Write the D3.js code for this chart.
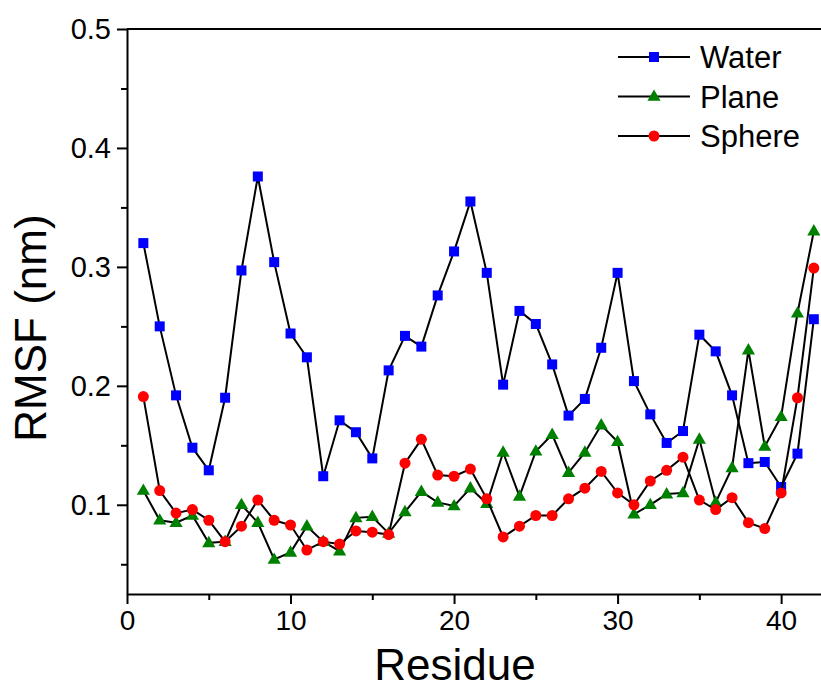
<!DOCTYPE html>
<html>
<head>
<meta charset="utf-8">
<script src="https://cdnjs.cloudflare.com/ajax/libs/d3/7.8.5/d3.min.js"></script>
<style>
html,body{margin:0;padding:0;background:#fff;}
svg{display:block;}
text{font-family:"Liberation Sans",Arial,sans-serif;fill:#000;}
</style>
</head>
<body>
<svg id="chart" width="821" height="689"></svg>
<script>
const residues = d3.range(1, 43);
const water = [0.320,0.250,0.192,0.148,0.129,0.190,0.297,0.376,0.304,0.244,
  0.224,0.124,0.171,0.161,0.139,0.213,0.242,0.233,0.276,0.313,
  0.355,0.295,0.201,0.263,0.252,0.218,0.175,0.189,0.232,0.295,
  0.204,0.176,0.152,0.162,0.243,0.229,0.192,0.135,0.136,0.115,
  0.143,0.256];
const plane = [0.112,0.087,0.085,0.091,0.068,0.069,0.100,0.085,0.054,0.060,
  0.082,0.069,0.061,0.089,0.090,0.076,0.094,0.111,0.102,0.099,
  0.114,0.101,0.144,0.107,0.145,0.159,0.127,0.144,0.167,0.153,
  0.092,0.100,0.109,0.110,0.155,0.102,0.131,0.230,0.149,0.174,
  0.261,0.330];
const sphere = [0.191,0.112,0.093,0.096,0.087,0.069,0.082,0.104,0.087,0.083,
  0.062,0.069,0.067,0.078,0.077,0.075,0.135,0.155,0.125,0.124,
  0.130,0.105,0.073,0.082,0.091,0.091,0.105,0.114,0.128,0.110,
  0.100,0.120,0.129,0.140,0.104,0.096,0.106,0.085,0.080,0.110,
  0.190,0.299];
const seriesNames = ["Water","Plane","Sphere"];
const seriesColors = ["#0000ff","#008000","#ff0000"];
const seriesShapes = ["square","triangle","circle"];
const xTicks = [0,10,20,30,40];
const xMinor = [5,15,25,35];
const yTicks = [0.1,0.2,0.3,0.4,0.5];
const yMinor = [0.05,0.15,0.25,0.35,0.45];

const svg = d3.select("#chart");
const x = d3.scaleLinear().domain([0,42.5]).range([127,822]);
const y = d3.scaleLinear().domain([0.025,0.5]).range([594,29]);

// frame top line
svg.append("line").attr("x1",127).attr("x2",821).attr("y1",y(0.5)).attr("y2",y(0.5))
  .attr("stroke","#000").attr("stroke-width",2);

// x axis
const xAxis = svg.append("g").attr("transform",`translate(0,${y(0.025)})`)
  .call(d3.axisBottom(x).tickValues(xTicks).tickFormat(d3.format("d")).tickSize(10).tickSizeOuter(0));
svg.append("g").attr("transform",`translate(0,${y(0.025)})`)
  .call(d3.axisBottom(x).tickValues(xMinor).tickFormat("").tickSize(6).tickSizeOuter(0))
  .select(".domain").remove();
// y axis
const yAxis = svg.append("g").attr("transform",`translate(${x(0)},0)`)
  .call(d3.axisLeft(y).tickValues(yTicks).tickFormat(d3.format(".1f")).tickSize(10).tickSizeOuter(0));
svg.append("g").attr("transform",`translate(${x(0)},0)`)
  .call(d3.axisLeft(y).tickValues(yMinor).tickFormat("").tickSize(6).tickSizeOuter(0))
  .select(".domain").remove();

svg.selectAll(".domain").attr("stroke","#000").attr("stroke-width",2);
svg.selectAll(".tick line").attr("stroke","#000").attr("stroke-width",2);
xAxis.selectAll(".tick text").attr("font-size",28).attr("dy","0.78em").attr("y",14)
  .attr("font-family","Liberation Sans, Arial, sans-serif");
yAxis.selectAll(".tick text").attr("font-size",29).attr("x",-16)
  .attr("font-family","Liberation Sans, Arial, sans-serif");

// axis titles
svg.append("text").attr("x",455).attr("y",680).attr("text-anchor","middle")
  .attr("font-size",44).text("Residue");
svg.append("text").attr("transform","translate(46,328) rotate(-90)").attr("text-anchor","middle")
  .attr("font-size",44).text("RMSF (nm)");

const allSeries = [water, plane, sphere];
const line = d3.line().x((d,i)=>x(residues[i])).y(d=>y(d));

function drawMarker(g, shape, color, cx, cy){
  if(shape==="square"){
    g.append("rect").attr("x",cx-5).attr("y",cy-5).attr("width",10).attr("height",10).attr("fill",color);
  } else if(shape==="triangle"){
    g.append("path").attr("d",d3.symbol().type(d3.symbolTriangle).size(75)()).attr("transform",`translate(${cx},${cy+0.5})`).attr("fill",color);
  } else {
    g.append("circle").attr("cx",cx).attr("cy",cy).attr("r",5.5).attr("fill",color);
  }
}

allSeries.forEach((vals,si)=>{
  const g = svg.append("g");
  g.append("path").datum(vals).attr("d",line).attr("fill","none").attr("stroke","#000").attr("stroke-width",2);
  vals.forEach((v,i)=>drawMarker(g, seriesShapes[si], seriesColors[si], x(residues[i]), y(v)));
});

// legend
const lg = svg.append("g");
seriesNames.forEach((name,i)=>{
  const yy = 57 + i*39.5;
  lg.append("line").attr("x1",618).attr("x2",690).attr("y1",yy).attr("y2",yy).attr("stroke","#000").attr("stroke-width",2);
  drawMarker(lg, seriesShapes[i], seriesColors[i], 654, yy);
  lg.append("text").attr("x",700).attr("y",yy).attr("dy","0.36em").attr("font-size",31).text(name);
});
</script>
</body>
</html>
